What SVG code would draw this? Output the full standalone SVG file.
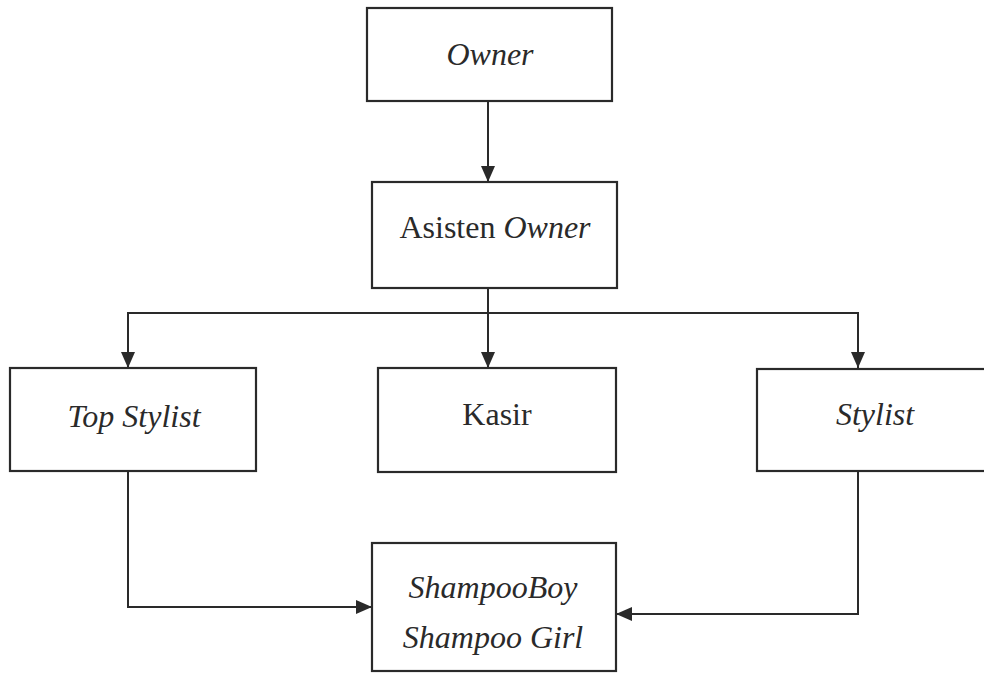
<svg xmlns="http://www.w3.org/2000/svg" width="984" height="673" viewBox="0 0 984 673">
<defs>
<style>
.box{fill:#fff;stroke:#2a2a2a;stroke-width:2.2}
.lbl{font-family:"Liberation Serif","Times New Roman",serif;font-size:32px;fill:#2a2a2a;text-anchor:middle}
.it{font-style:italic}
.con{fill:none;stroke:#2a2a2a;stroke-width:2}
</style>
<marker id="ah" viewBox="0 0 16 14" refX="16" refY="7" markerWidth="16" markerHeight="14" markerUnits="userSpaceOnUse" orient="auto">
<path d="M0,0 L16,7 L0,14 Z" fill="#2a2a2a"/>
</marker>
</defs>
<rect width="984" height="673" fill="#fff"/>
<g id="connectors">
<path class="con" d="M488,101 V182" marker-end="url(#ah)"/>
<path class="con" d="M488,288 V368" marker-end="url(#ah)"/>
<path class="con" d="M128,368 V313 H858 V368" marker-end="url(#ah)"/>
<path class="con" d="M128,313 V368" marker-end="url(#ah)"/>
<path class="con" d="M128,471 V607 H372" marker-end="url(#ah)"/>
<path class="con" d="M858,471 V614 H616" marker-end="url(#ah)"/>
</g>
<g id="owner">
<rect class="box" x="367" y="8" width="245" height="93"/>
<text class="lbl it" x="490" y="65">Owner</text>
</g>
<g id="asisten-owner">
<rect class="box" x="372" y="182" width="245" height="106"/>
<text class="lbl" x="495" y="238">Asisten <tspan class="it">Owner</tspan></text>
</g>
<g id="top-stylist">
<rect class="box" x="10" y="368" width="246" height="103"/>
<text class="lbl it" x="134" y="427">Top Stylist</text>
</g>
<g id="kasir">
<rect class="box" x="378" y="368" width="238" height="104"/>
<text class="lbl" x="497" y="425">Kasir</text>
</g>
<g id="stylist">
<rect class="box" x="757" y="369" width="240" height="102"/>
<text class="lbl it" x="875" y="425">Stylist</text>
</g>
<g id="shampoo">
<rect class="box" x="372" y="543" width="244" height="128"/>
<text class="lbl it" x="493" y="598">ShampooBoy</text>
<text class="lbl it" x="493" y="648">Shampoo Girl</text>
</g>
</svg>
